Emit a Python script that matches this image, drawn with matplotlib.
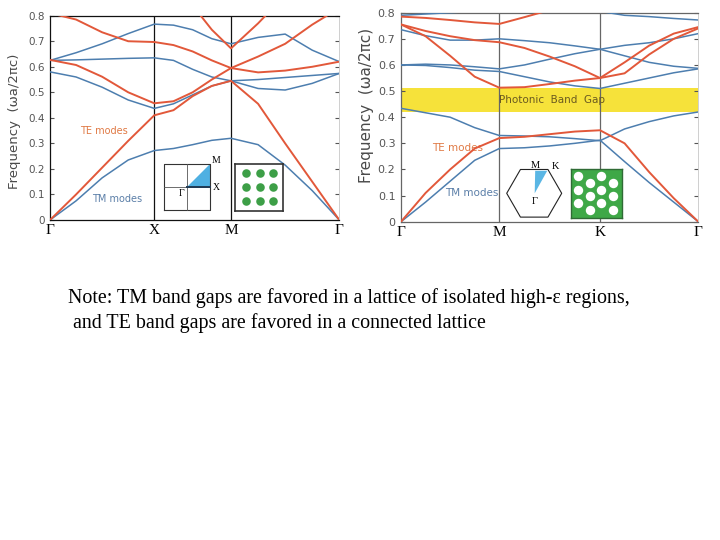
import numpy as np
import matplotlib.pyplot as plt
from matplotlib.patches import Polygon

# ============================
# DATA
# ============================
# k-path: node labels and where the nodes sit along each axis (0..1)
sq_labels = ["Γ", "X", "M", "Γ"]
sq_nodes = [0.0, 0.3605, 0.6257, 1.0]
tri_labels = ["Γ", "M", "K", "Γ"]
tri_nodes = [0.0, 0.3306, 0.6694, 1.0]

# frequencies (ωa/2πc) at quarter points of each of the three segments -> 13 values per band
# square lattice of dielectric rods
sq_tm = [
    [0, .075, .165, .235, .272, .28, .295, .312, .32, .295, .215, .115, 0],
    [.58, .56, .52, .47, .437, .455, .49, .525, .545, .515, .509, .535, .574],
    [.625, .627, .63, .633, .635, .625, .59, .56, .545, .55, .558, .566, .574],
    [.625, .655, .69, .73, .767, .763, .745, .71, .69, .715, .728, .665, .62],
]
sq_te = [
    [0, .10, .205, .31, .41, .43, .485, .525, .545, .455, .30, .15, 0],
    [.627, .607, .561, .50, .457, .465, .50, .55, .595, .64, .69, .765, .83],
    [.81, .785, .735, .70, .697, .685, .66, .625, .595, .578, .585, .60, .62],
    [1.0, .98, .95, .92, .90, .87, .84, .745, .672, .77, .88, .95, 1.0],
]
# triangular lattice of air holes
tri_tm = [
    [0, .075, .155, .235, .28, .283, .29, .30, .312, .23, .15, .075, 0],
    [.434, .417, .40, .36, .33, .328, .325, .318, .31, .355, .383, .405, .42],
    [.60, .603, .60, .593, .585, .60, .622, .643, .66, .675, .685, .70, .72],
    [.60, .598, .59, .58, .575, .555, .535, .52, .51, .53, .55, .57, .585],
    [.735, .712, .695, .695, .70, .693, .685, .673, .66, .635, .61, .595, .587],
    [.79, .795, .80, .805, .81, .82, .83, .82, .805, .79, .785, .778, .772],
]
tri_te = [
    [0, .11, .20, .28, .32, .325, .335, .345, .35, .30, .19, .09, 0],
    [.755, .71, .635, .555, .513, .515, .527, .54, .55, .61, .674, .72, .745],
    [.755, .73, .71, .695, .687, .665, .632, .595, .55, .568, .64, .70, .74],
    [.785, .78, .772, .763, .757, .783, .81, .85, .90, .95, 1.0, 1.0, 1.0],
]
gap_lo, gap_hi = 0.42, 0.51

y_ticks = [0, .1, .2, .3, .4, .5, .6, .7, .8]
y_ticklabels = ["0", "0.1", "0.2", "0.3", "0.4", "0.5", "0.6", "0.7", "0.8"]

note_lines = [
    "Note: TM band gaps are favored in a lattice of isolated high-\u03b5 regions,",
    " and TE band gaps are favored in a connected lattice",
]

BLUE = "#4d7eaf"
RED = "#e2583a"
GRAY = "#4a4a4a"

# ============================
# FIGURE
# ============================
W, H = 720, 540
fig = plt.figure(figsize=(7.2, 5.4), dpi=100)


def box(x0, y0, x1, y1):
    # pixel rectangle (from top-left) -> figure fraction
    return [x0 / W, 1 - y1 / H, (x1 - x0) / W, (y1 - y0) / H]


def kgrid(nodes):
    pts = [nodes[0]]
    for a, b in zip(nodes[:-1], nodes[1:]):
        pts += list(np.linspace(a, b, 5)[1:])
    return np.array(pts)


def panel(ax, nodes, labels, tm, te, line_col, tick_size):
    k = kgrid(nodes)
    for b in tm:
        ax.plot(k, b, color=BLUE, lw=1.1, zorder=3)
    for b in te:
        ax.plot(k, b, color=RED, lw=1.4, zorder=4)
    ax.set_xlim(0, 1)
    ax.set_ylim(0, 0.8)
    for x in nodes[1:-1]:
        ax.axvline(x, color=line_col, lw=0.9, zorder=2)
    ax.set_xticks(nodes)
    ax.set_xticklabels(labels, fontfamily="Liberation Serif", fontsize=11)
    ax.tick_params(axis="x", length=0, pad=3)
    ax.set_yticks(y_ticks)
    ax.set_yticklabels(y_ticklabels)
    ax.tick_params(axis="y", direction="in", length=3, left=True, right=True,
                   labelsize=tick_size, labelcolor="#555555", color="#555555", pad=4)
    for s in ["left", "top", "bottom"]:
        ax.spines[s].set_color(line_col)
        ax.spines[s].set_linewidth(0.9)
    ax.spines["right"].set_color("#c8c8c8")
    ax.spines["right"].set_linewidth(0.6)


# ---- left: square lattice
ax1 = fig.add_axes(box(50, 15.7, 339.3, 220))
panel(ax1, sq_nodes, sq_labels, sq_tm, sq_te, "#111111", 7.5)
ax1.text(0.104, 0.348, "TE modes", color="#e07a45", fontsize=7, va="center")
ax1.text(0.145, 0.082, "TM modes", color="#5b7fa8", fontsize=7, va="center")
fig.text(15 / W, 1 - 121 / H, "Frequency  (\u03c9a/2\u03c0c)", rotation=90,
         ha="center", va="center", fontsize=9.5, color=GRAY)

# ---- right: triangular lattice
ax2 = fig.add_axes(box(401, 12.7, 698.3, 221.7))
panel(ax2, tri_nodes, tri_labels, tri_tm, tri_te, "#666666", 8)
ax2.axhspan(gap_lo, gap_hi, color="#f6e23a", zorder=1, lw=0)
ax2.text(0.507, (gap_lo + gap_hi) / 2, "Photonic  Band  Gap", ha="center", va="center",
         fontsize=7.5, color="#6a5a20", zorder=5)
ax2.text(0.103, 0.281, "TE modes", color="#e07a45", fontsize=7.5, va="center")
ax2.text(0.148, 0.109, "TM modes", color="#5b7fa8", fontsize=7.5, va="center")
fig.text(366.7 / W, 1 - 105 / H, "Frequency  (\u03c9a/2\u03c0c)", rotation=90,
         ha="center", va="center", fontsize=11, color=GRAY)

# ---- inset: square Brillouin zone
bz = fig.add_axes(box(164, 164, 210, 210))
bz.set_xlim(-1, 1)
bz.set_ylim(-1, 1)
bz.axis("off")
bz.add_patch(Polygon([(0, 0), (1, 0), (1, 1)], closed=True, color="#4fb0e2", lw=0))
bz.plot([-1, 1, 1, -1, -1], [-1, -1, 1, 1, -1], color="#333333", lw=0.8, clip_on=False)
bz.plot([0, 0], [-1, 1], color="#555555", lw=0.6, clip_on=False)
bz.plot([-1, 1], [0, 0], color="#555555", lw=0.6, clip_on=False)
bz.plot([0, 1], [0, 0], color="#1f3a55", lw=1.4, clip_on=False)
bz.text(1.26, 1.14, "M", fontfamily="Liberation Serif", fontsize=7, ha="center", va="center")
bz.text(1.26, 0.0, "X", fontfamily="Liberation Serif", fontsize=7, ha="center", va="center")
bz.text(-0.23, -0.27, "Γ", fontfamily="Liberation Serif", fontsize=7, ha="center", va="center")

# ---- inset: dielectric rods
rods = fig.add_axes(box(235, 164, 283.3, 210.7))
rods.set_xlim(-0.81, 2.74)
rods.set_ylim(2.69, -0.61)
rods.set_xticks([])
rods.set_yticks([])
for s in rods.spines.values():
    s.set_color("#333333")
    s.set_linewidth(1.2)
gx, gy = np.meshgrid(range(3), range(3))
rods.scatter(gx.ravel(), gy.ravel(), s=38, color="#3d9f47", lw=0)

# ---- inset: hexagonal Brillouin zone
hexax = fig.add_axes(box(504.2, 163.3, 564.2, 223.3))
hexax.set_xlim(-30, 30)
hexax.set_ylim(-30, 30)
hexax.axis("off")
ang = np.radians(np.arange(0, 360, 60))
hexax.add_patch(Polygon(np.c_[27.5 * np.cos(ang), 27.5 * np.sin(ang)], closed=True,
                        fill=False, ec="#222222", lw=0.8))
hexax.add_patch(Polygon([(0.5, 0), (1, 22.5), (13, 22.5)], closed=True, color="#5ab6e4", lw=0))
hexax.text(0.8, 28.3, "M", fontfamily="Liberation Serif", fontsize=7.5, ha="center", va="center")
hexax.text(20.8, 27.3, "K", fontfamily="Liberation Serif", fontsize=7.5, ha="center", va="center")
hexax.text(0.8, -8.4, "Γ", fontfamily="Liberation Serif", fontsize=7.5, ha="center", va="center")

# ---- inset: air holes in dielectric
holes = fig.add_axes(box(571, 169, 621.5, 218.3))
holes.set_facecolor("#3ea847")
holes.set_xlim(-0.56, 3.69)
holes.set_ylim(3.10, -0.51)
holes.set_xticks([])
holes.set_yticks([])
for s in holes.spines.values():
    s.set_color("#2f6b35")
    s.set_linewidth(1.0)
hx, hy = np.meshgrid(range(4), range(3))
holes.scatter(hx.ravel(), hy.ravel() + 0.5 * (hx.ravel() % 2), s=46, color="white", lw=0)

# ---- note
fig.text(68 / W, 1 - 298 / H, note_lines[0], fontfamily="Liberation Serif", fontsize=14.4, va="center")
fig.text(68 / W, 1 - 323 / H, note_lines[1], fontfamily="Liberation Serif", fontsize=14.4, va="center")

fig.savefig("out.png", dpi=100)
